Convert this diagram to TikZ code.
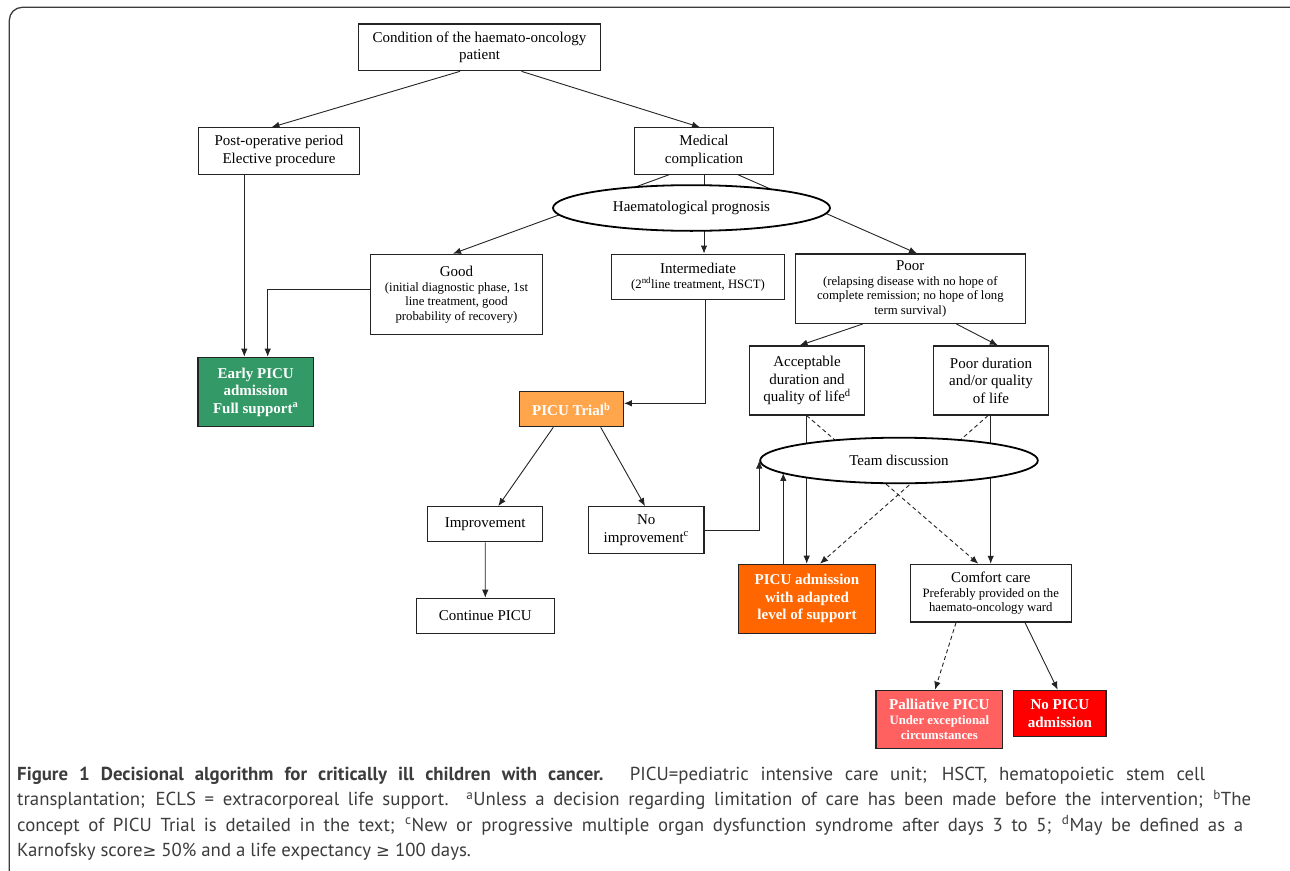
\documentclass[tikz,border=0pt]{standalone}
\usepackage{fontspec}
\setmainfont{Liberation Serif}
\newfontfamily\capfont{PT Sans}
\newfontfamily\symfont{DejaVu Sans}
\usetikzlibrary{arrows.meta,shapes.geometric,backgrounds}
\definecolor{egreen}{RGB}{51,153,102}
\definecolor{trialor}{RGB}{255,166,77}
\definecolor{admor}{RGB}{255,102,0}
\definecolor{pallred}{RGB}{255,97,97}
\definecolor{nored}{RGB}{255,0,0}
\definecolor{capgray}{RGB}{60,60,60}
\definecolor{linec}{RGB}{35,35,35}
\newcommand\mainsz{\fontsize{15}{17.5}\selectfont}
\newcommand\subsz{\fontsize{12.75}{14.5}\selectfont}
\newcommand\boldsz{\fontsize{15}{17.5}\selectfont\bfseries}
\newcommand\capsz{\capfont\fontsize{18.8}{22}\selectfont}
\begin{document}
\begin{tikzpicture}[x=1pt,y=-1pt,
  box/.style={draw=linec, line width=1.2pt, fill=white, align=center, inner sep=0pt, text=black, font=\mainsz},
  sbox/.style={box, font=\subsz},
  cbox/.style={box, text=white, font=\boldsz},
  ell/.style={ellipse, draw=black, line width=1.8pt, fill=white, inner sep=0pt, font=\mainsz},
  arr/.style={draw=linec, line width=0.9pt, -{Latex[length=8pt,width=6.5pt]}},
  dsh/.style={arr, dash pattern=on 4pt off 3pt},
  capline/.style={anchor=base west, inner sep=0pt, text=capgray, font=\capsz}]
\useasboundingbox (0,0) rectangle (1290,870);
\clip (0,0) rectangle (1290,870);
\draw[capgray, line width=1.3pt, rounded corners=13pt] (9.3,900) -- (9.3,7.3) -- (1310,7.3);

% nodes
\node[box, minimum width=242pt, minimum height=46.7pt] (cond) at (479.5,47.4) {Condition of the haemato-oncology\\patient};
\node[box, minimum width=160.7pt, minimum height=46.3pt] (post) at (279,151) {Post-operative period\\Elective procedure};
\node[box, minimum width=138.5pt, minimum height=46.3pt] (med) at (704,151) {Medical\\complication};
\node[ell, minimum width=277pt, minimum height=45.7pt] (hem) at (691.5,208) {Haematological prognosis};
\node[sbox, minimum width=172pt, minimum height=80.5pt] (good) at (456.5,294.5) {{\mainsz Good}\\(initial diagnostic phase, 1st\\line treatment, good\\probability of recovery)};
\node[sbox, minimum width=172.6pt, minimum height=45.7pt] (inter) at (698,277) {{\mainsz Intermediate}\\(2\textsuperscript{nd}line treatment, HSCT)};
\node[sbox, minimum width=229.8pt, minimum height=69.3pt] (poor) at (910.3,288.7) {{\mainsz Poor}\\(relapsing disease with no hope of\\complete remission; no hope of long\\term survival)};
\node[box, minimum width=115pt, minimum height=69pt] (acc) at (807,380.5) {Acceptable\\duration and\\quality of life\textsuperscript{d}};
\node[box, minimum width=115.4pt, minimum height=69pt] (pdq) at (991,380.5) {Poor duration\\and/or quality\\of life};
\node[ell, minimum width=277.7pt, minimum height=45.6pt] (team) at (899,460.5) {Team discussion};
\node[cbox, fill=egreen, minimum width=115.3pt, minimum height=69.4pt] (early) at (255.7,392) {Early PICU\\admission\\Full support\textsuperscript{a}};
\node[cbox, fill=trialor, minimum width=104pt, minimum height=35pt] (trial) at (571.3,409.2) {PICU Trial\textsuperscript{b}};
\node[box, minimum width=115pt, minimum height=35pt] (impr) at (485.2,524.2) {Improvement};
\node[box, minimum width=115.3pt, minimum height=46.6pt] (noimp) at (646.3,530) {No\\improvement\textsuperscript{c}};
\node[box, minimum width=138pt, minimum height=35pt] (cont) at (485.3,615.8) {Continue PICU};
\node[cbox, fill=admor, minimum width=137.7pt, minimum height=69pt] (picu) at (807,598.8) {PICU admission\\with adapted\\level of support};
\node[sbox, minimum width=161pt, minimum height=57.7pt] (comf) at (990.8,593.2) {{\mainsz Comfort care}\\Preferably provided on the\\haemato-oncology ward};
\node[cbox, fill=pallred, minimum width=126.5pt, minimum height=58pt, font=\fontsize{12.75}{15}\selectfont\bfseries] (pall) at (939.3,719.3) {{\fontsize{15}{15}\selectfont Palliative PICU}\\Under exceptional\\circumstances};
\node[cbox, fill=nored, minimum width=92.3pt, minimum height=46.4pt] (nopicu) at (1059.9,713.5) {No PICU\\admission};

% connectors
\begin{scope}[on background layer]
\draw[arr] (460,0 |- cond.south) -- (271.5,0 |- post.north);
\draw[arr] (521.5,0 |- cond.south) -- (700,0 |- med.north);
\draw[arr] (669,0 |- med.south) -- (453,0 |- good.north);
\draw[arr] (704,0 |- med.south) -- (704,0 |- inter.north);
\draw[arr] (738,0 |- med.south) -- (917,0 |- poor.north);
\draw[arr] (244.3,0 |- post.south) -- (244.3,0 |- early.north);
\draw[arr] (good.west |- 0,289) -| (267.7,0 |- early.north);
\draw[arr] (705.7,0 |- inter.south) |- (trial.east |- 0,403.3);
\draw[arr] (862.8,0 |- poor.south) -- (799.6,0 |- acc.north);
\draw[arr] (956.4,0 |- poor.south) -- (997.8,0 |- pdq.north);
\draw[arr] (806.7,0 |- acc.south) -- (806.7,0 |- picu.north);
\draw[dsh] (806.7,0 |- acc.south) -- (978.3,0 |- comf.north);
\draw[arr] (990.7,0 |- pdq.south) -- (990.7,0 |- comf.north);
\draw[dsh] (988,0 |- pdq.south) -- (820,0 |- picu.north);
\end{scope}
\draw[arr] (783.3,0 |- picu.north) -- (783.3,0 |- team.186);
\draw[arr] (noimp.east) -| (team.west);
\draw[arr] (553.3,0 |- trial.south) -- (498.3,0 |- impr.north);
\draw[arr] (600.7,0 |- trial.south) -- (645,0 |- noimp.north);
\draw[arr] (impr.south) -- (cont.north);
\draw[dsh] (956,0 |- comf.south) -- (935,0 |- pall.north);
\draw[arr] (1025,0 |- comf.south) -- (1057.7,0 |- nopicu.north);

% caption
\node[capline] (cap1) at (17,780) {\makebox[1188pt][s]{\textbf{Figure 1 Decisional algorithm for critically ill children with cancer.} PICU=pediatric intensive care unit; HSCT, hematopoietic stem cell}};
\node[capline] (cap2) at (17,805.5) {\makebox[1234pt][s]{transplantation; ECLS = extracorporeal life support. \textsuperscript{a}Unless a decision regarding limitation of care has been made before the intervention; \textsuperscript{b}The}};
\node[capline] (cap3) at (17,831) {\makebox[1226pt][s]{concept of PICU Trial is detailed in the text; \textsuperscript{c}New or progressive multiple organ dysfunction syndrome after days 3 to 5; \textsuperscript{d}May be defined as a}};
\node[capline] (cap4) at (17,856.5) {Karnofsky score{\symfont\fontsize{16.5}{20}\selectfont ≥} 50\% and a life expectancy {\symfont\fontsize{16.5}{20}\selectfont ≥} 100 days.};
\end{tikzpicture}
\end{document}
